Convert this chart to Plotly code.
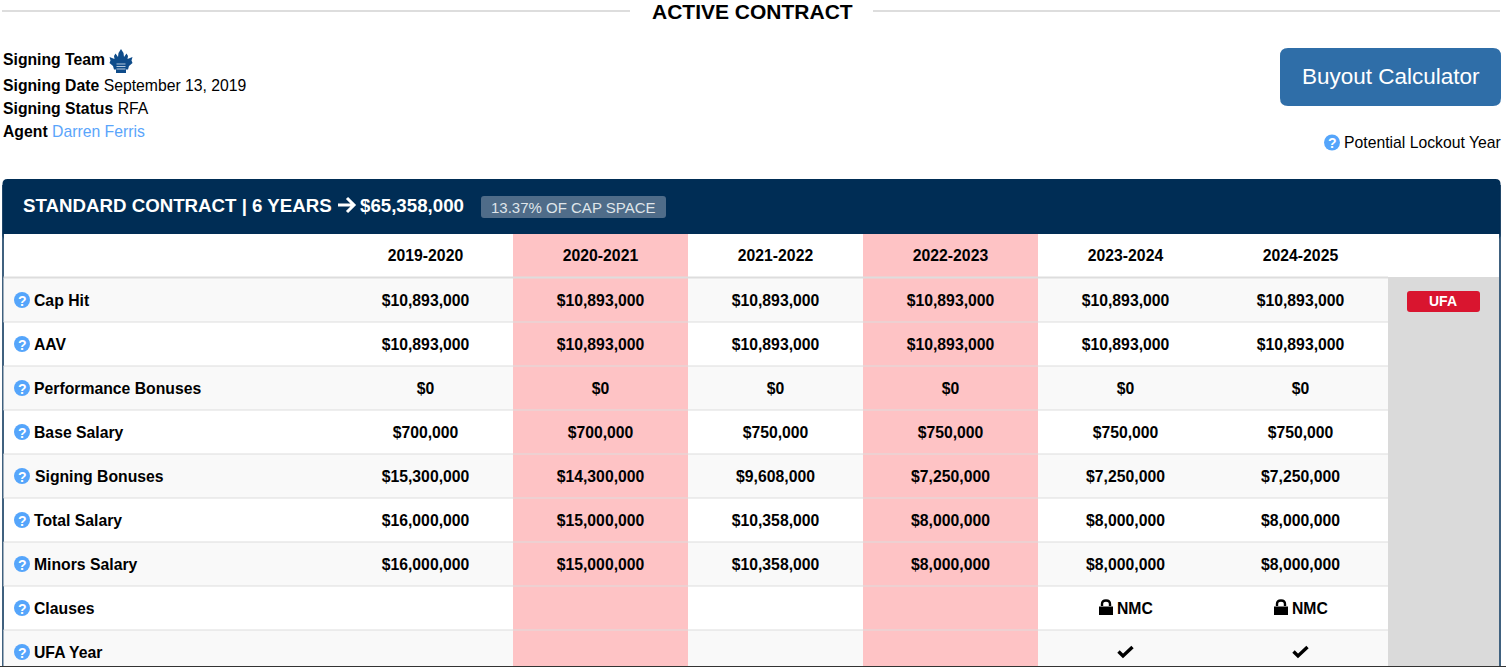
import plotly.graph_objects as go

# ---- data ----
seasons = ["2019-2020", "2020-2021", "2021-2022", "2022-2023", "2023-2024", "2024-2025"]
lockout_seasons = ["2020-2021", "2022-2023"]
row_labels = ["Cap Hit", "AAV", "Performance Bonuses", "Base Salary", "Signing Bonuses",
              "Total Salary", "Minors Salary", "Clauses", "UFA Year"]
cap_hit = [10893000] * 6
aav = [10893000] * 6
performance_bonuses = [0] * 6
base_salary = [700000, 700000, 750000, 750000, 750000, 750000]
signing_bonuses = [15300000, 14300000, 9608000, 7250000, 7250000, 7250000]
total_salary = [16000000, 15000000, 10358000, 8000000, 8000000, 8000000]
minors_salary = [16000000, 15000000, 10358000, 8000000, 8000000, 8000000]
clauses = ["", "", "", "", "NMC", "NMC"]
ufa_year = [False, False, False, False, True, True]
money_rows = [cap_hit, aav, performance_bonuses, base_salary, signing_bonuses, total_salary, minors_salary]

FONT = "Liberation Sans, Arial, sans-serif"
NAVY = "#002d55"
BLUE = "#55a5fb"
GRID = "#dddddd"
PINK = "#fec3c5"
GRAY = "#dadada"
BODY = 15.75

# ---- layout constants (page pixels) ----
COL_X0, COL_W = 338, 175
ROW_Y0, ROW_H = 278, 44
centres = [COL_X0 + COL_W * (i + 0.5) for i in range(len(seasons))]
row_mid = [ROW_Y0 + ROW_H * (i + 0.5) for i in range(len(row_labels))]

shapes, notes = [], []


def rect(x0, y0, x1, y1, fill, layer="below"):
    shapes.append(dict(type="rect", x0=x0, y0=y0, x1=x1, y1=y1, fillcolor=fill,
                       line_width=0, layer=layer))


def hline(x0, x1, y, color=GRID, w=1):
    shapes.append(dict(type="line", x0=x0, x1=x1, y0=y, y1=y, line=dict(color=color, width=w),
                       layer="below"))


def path(d, fill=None, line=None, w=0, layer="above"):
    s = dict(type="path", path=d, layer=layer, line=dict(width=w, color=line or "rgba(0,0,0,0)"))
    s["fillcolor"] = fill or "rgba(0,0,0,0)"
    shapes.append(s)


def rrect(x0, y0, x1, y1, r, fill, layer="below"):
    d = (f"M{x0+r},{y0} L{x1-r},{y0} Q{x1},{y0} {x1},{y0+r} L{x1},{y1-r} Q{x1},{y1} {x1-r},{y1} "
         f"L{x0+r},{y1} Q{x0},{y1} {x0},{y1-r} L{x0},{y0+r} Q{x0},{y0} {x0+r},{y0} Z")
    path(d, fill=fill, layer=layer)


def note(x, y, text, size=BODY, color="#000000", anchor="left"):
    notes.append(dict(x=x, y=y, text=text, showarrow=False, xanchor=anchor, yanchor="middle",
                      font=dict(family=FONT, size=size, color=color), xref="x", yref="y",
                      borderpad=0, borderwidth=0))


xs, ys = [], []


def help_icon(x, y):
    xs.append(x)
    ys.append(y)


# ---- title ----
hline(2, 630, 11, w=2)
hline(873, 1500, 11, w=2)
note(752, 11, "<b>ACTIVE CONTRACT</b>", size=21, anchor="center")

# ---- signing info ----
note(3, 59.5, "<b>Signing Team</b>")
note(3, 85.5, "<b>Signing Date</b> September 13, 2019")
note(3, 108.5, "<b>Signing Status</b> RFA")
note(3, 131.5, "<b>Agent</b> <span style='color:#5aa5fb'>Darren Ferris</span>")
leaf = ("M121,49 L123.5,53 L124,57 L126.5,53.5 L128,56 L127.5,59 L132.5,57 L131.5,60.5 L132.5,63 L129,66 L128,69.5 L126,69.5 "
        "L126,73 L116,73 L116,69.5 L114,69.5 L113,66 L109.5,63 L110.5,60.5 L109.5,57 L114.5,59 L114,56 L115.5,53.5 "
        "L118,57 L118.5,53 Z")
path(leaf, fill="#0f4c8a")
for dy in (64, 66.5, 69):
    path(f"M116.5,{dy} L125.5,{dy}", line="#c6d6e6", w=0.9)

# ---- button ----
rrect(1280, 48, 1501, 106, 8, "#2f6ea8")
note(1390.5, 76, "Buyout Calculator", size=22.5, color="#ffffff", anchor="center")
note(1500.5, 142.5, "Potential Lockout Year", anchor="right")
help_icon(1332, 142.5)

# ---- table frame and header ----
rrect(2.5, 179, 1500.5, 240, 5, NAVY)
rect(3.5, 234, 1499.5, 667, "#ffffff")
shapes.append(dict(type="line", x0=3, x1=3, y0=185, y1=667, line=dict(color=NAVY, width=1.5), layer="below"))
shapes.append(dict(type="line", x0=1500, x1=1500, y0=185, y1=667, line=dict(color=NAVY, width=1.5), layer="below"))
note(23, 205, "<b>STANDARD CONTRACT | 6 YEARS</b>", size=18.7, color="#ffffff")
note(359.5, 205, "<b>$65,358,000</b>", size=18.7, color="#ffffff")
path("M338,205 L353,205 M347,198 L354,205 L347,212", line="#ffffff", w=3)
rrect(481, 196, 666, 218, 3, "#4f6c89")
note(573.5, 207.5, "13.37% OF CAP SPACE", size=15, color="#dfe5ea", anchor="center")

# ---- rows ----
for i, mid in enumerate(row_mid):
    y0, y1 = mid - ROW_H / 2, mid + ROW_H / 2
    if i % 2 == 0:
        rect(3.5, y0, 1388, min(y1, 667), "#f9f9f9")
for s, c in zip(seasons, centres):
    if s in lockout_seasons:
        rect(c - COL_W / 2, 234, c + COL_W / 2, 667, PINK)
hline(3.5, 1388, 277.5, w=2)
for i in range(1, len(row_labels)):
    hline(3.5, 1388, ROW_Y0 + ROW_H * i)
rect(1388, 277, 1499, 667, GRAY)
rrect(1407, 291, 1480, 312, 3, "#d9152f")
note(1443, 301, "<b>UFA</b>", size=14, color="#ffffff", anchor="center")

# labels and their help icons
for label, mid in zip(row_labels, row_mid):
    note(35 if label == "Signing Bonuses" else 34, mid, f"<b>{label}</b>")
    help_icon(22, mid)

# clause and UFA-year marks
for c, cl, ufa in zip(centres, clauses, ufa_year):
    if cl:
        y = row_mid[row_labels.index("Clauses")]
        note(c - 8.5, y, f"<b>{cl}</b>")
        lx = c - 26.5
        path(f"M{lx},{y-1.5} L{lx+14},{y-1.5} L{lx+14},{y+7} L{lx},{y+7} Z", fill="#000000")
        path(f"M{lx+3},{y-2} L{lx+3},{y-4} Q{lx+3},{y-7.5} {lx+7},{y-7.5} Q{lx+11},{y-7.5} {lx+11},{y-4} L{lx+11},{y-2}",
             line="#000000", w=2.4)
    if ufa:
        y = row_mid[row_labels.index("UFA Year")]
        path(f"M{c-7},{y-0.5} L{c-2.5},{y+4} L{c+7},{y-5}", line="#000000", w=3.4)

fig = go.Figure()

# header labels
fig.add_trace(go.Scatter(x=centres, y=[257] * len(seasons), mode="text", text=[f"<b>{s}</b>" for s in seasons],
                         textfont=dict(family=FONT, size=BODY, color="#000000"), textposition="middle center",
                         hoverinfo="skip", showlegend=False))
# money cells
for values, mid in zip(money_rows, row_mid):
    fig.add_trace(go.Scatter(x=centres, y=[mid + 2] * len(values), mode="text",
                             text=[f"<b>${v:,}</b>" for v in values],
                             textfont=dict(family=FONT, size=BODY, color="#000000"),
                             textposition="middle center", hoverinfo="skip", showlegend=False))
# help icons
fig.add_trace(go.Scatter(x=xs, y=ys, mode="markers", marker=dict(size=16, color=BLUE, line_width=0),
                         hoverinfo="skip", showlegend=False))
for x, y in zip(xs, ys):
    note(x, y + 0.5, "<b>?</b>", size=14, color="#ffffff", anchor="center")

hline(0, 1506, 666.5, color="#333333")
fig.update_layout(
    width=1506, height=667, margin=dict(l=0, r=0, t=0, b=0),
    paper_bgcolor="#ffffff", plot_bgcolor="#ffffff",
    xaxis=dict(range=[0, 1506], visible=False, fixedrange=True),
    yaxis=dict(range=[667, 0], visible=False, fixedrange=True),
    shapes=shapes, annotations=notes, showlegend=False,
)
fig.write_html("out.html", config={"displayModeBar": False},
               post_script="document.body.style.margin='0';document.body.style.overflow='hidden';")
